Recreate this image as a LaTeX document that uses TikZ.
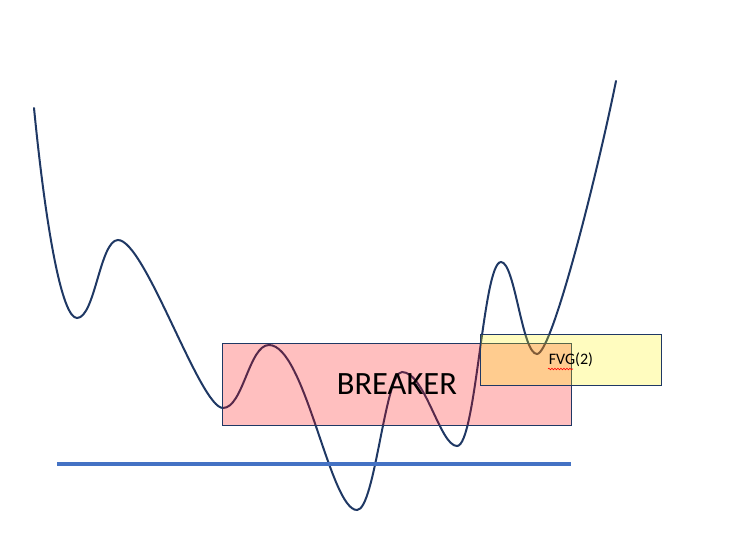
\documentclass[tikz,border=0pt]{standalone}
\usepackage{fontspec}
\setmainfont{Carlito}
\usetikzlibrary{decorations.pathmorphing}
\definecolor{navy}{RGB}{31,56,100}
\definecolor{lineblue}{RGB}{68,114,196}
\tikzset{
  price/.style={draw=navy, line width=2pt, line cap=round},
  zonebox/.style={draw=navy, line width=0.8pt, fill opacity=0.25, text opacity=1, inner sep=0pt, anchor=north west},
  level/.style={draw=lineblue, line width=3.8pt}
}
\begin{document}
\begin{tikzpicture}[x=1pt,y=1pt]
\useasboundingbox (0,0) rectangle (729,-547);
% price curve
\coordinate (A) at (34,-108);
\coordinate (B) at (77,-318);
\coordinate (C) at (118,-240);
\coordinate (D) at (223,-408);
\coordinate (E) at (269,-345);
\coordinate (F) at (357,-510);
\coordinate (G) at (402,-372);
\coordinate (H) at (457,-446);
\coordinate (I) at (501,-262);
\coordinate (J) at (537,-354);
\coordinate (K) at (616,-81);
\draw[price] (A) .. controls (46,-230) and (62,-318) .. (B)
  .. controls (95,-318) and (100,-240) .. (C)
  .. controls (145,-240) and (200,-408) .. (D)
  .. controls (243,-408) and (249,-345) .. (E)
  .. controls (305,-345) and (330,-510) .. (F)
  .. controls (375,-510) and (385,-372) .. (G)
  .. controls (425,-372) and (440,-446) .. (H)
  .. controls (476,-446) and (483,-262) .. (I)
  .. controls (515,-262) and (522,-354) .. (J)
  .. controls (552,-354) and (597,-175) .. (K);
% zones
\node[zonebox, fill=red, minimum width=349pt, minimum height=82pt,
  font=\fontsize{32.5}{36}\selectfont] (breaker) at (222,-343) {BREAKER};
\node[zonebox, fill=yellow, minimum width=181pt, minimum height=51pt,
  font=\fontsize{16}{19}\selectfont] (fvg) at (480,-334) {FVG(2)};
% spell-check underline
\coordinate (u1) at (548,-369);
\coordinate (u2) at (573,-369);
\draw[red, line width=0.6pt, decorate, decoration={snake, amplitude=0.8pt, segment length=3pt}] (u1) -- (u2);
% level line
\coordinate (L1) at (57,-464);
\coordinate (L2) at (571,-464);
\draw[level] (L1) -- (L2);
\end{tikzpicture}
\end{document}
